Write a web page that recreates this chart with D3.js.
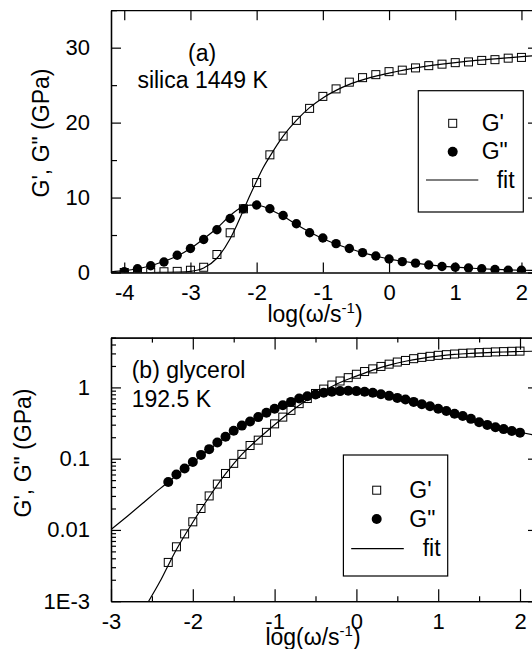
<!DOCTYPE html>
<html>
<head>
<meta charset="utf-8">
<script src="https://cdn.jsdelivr.net/npm/d3@7"></script>
<style>
  html, body { margin: 0; padding: 0; background: #fff; overflow: hidden; }
  svg { display: block; font-family: "Liberation Sans", Arial, sans-serif; }
</style>
</head>
<body>
<svg id="chart" width="532" height="649"></svg>
<script>
// (a) silica 1449 K, linear G scale
var silicaLogW = [-4.0, -3.8, -3.6, -3.4, -3.2, -3.0, -2.8, -2.6, -2.4, -2.2, -2.0, -1.8, -1.6, -1.4, -1.2, -1.0,
  -0.8, -0.6, -0.4, -0.2, 0.0, 0.2, 0.4, 0.6, 0.8, 1.0, 1.2, 1.4, 1.6, 1.8, 2.0];
var silicaGp = [0, 0, 0.02, 0.1, 0.15, 0.3, 0.7, 2.4, 5.3, 8.5, 12.0, 15.7, 18.2, 20.3, 21.9, 23.5,
  24.5, 25.4, 26.0, 26.4, 26.8, 27.0, 27.3, 27.6, 27.8, 28.0, 28.1, 28.3, 28.4, 28.6, 28.7];
var silicaGpp = [0.1, 0.5, 0.9, 1.4, 2.3, 3.2, 4.4, 5.7, 7.2, 8.5, 9.0, 8.5, 7.6, 6.5, 5.3, 4.6,
  3.85, 3.2, 2.65, 2.2, 1.8, 1.45, 1.25, 1.0, 0.8, 0.7, 0.6, 0.5, 0.4, 0.3, 0.3];
var silicaFitLogW = [-4.2, -4.0, -3.8, -3.6, -3.4, -3.2, -3.0, -2.8, -2.6, -2.4, -2.3, -2.2, -2.1, -2.0, -1.9, -1.8,
  -1.6, -1.4, -1.2, -1.0, -0.8, -0.6, -0.4, -0.2, 0.0, 0.4, 0.8, 1.2, 1.6, 2.0, 2.3];
var silicaFitGp = [0, 0, 0, 0, 0.02, 0.05, 0.15, 0.6, 1.9, 4.5, 6.3, 8.3, 10.3, 12.2, 14.0, 15.5,
  18.2, 20.3, 22.0, 23.3, 24.3, 25.1, 25.7, 26.2, 26.6, 27.3, 27.8, 28.2, 28.5, 28.8, 29.0];
var silicaFitGpp = [0.1, 0.25, 0.5, 0.9, 1.5, 2.2, 3.2, 4.5, 5.9, 7.6, 8.3, 8.8, 9.0, 9.0, 8.8, 8.4,
  7.5, 6.4, 5.4, 4.5, 3.8, 3.2, 2.65, 2.2, 1.8, 1.25, 0.85, 0.6, 0.42, 0.3, 0.25];
var silicaXTicks = [-4, -3, -2, -1, 0, 1, 2];
var silicaYTicks = [0, 10, 20, 30];
var silicaYMinor = [5, 15, 25, 35];

// (b) glycerol 192.5 K, log G scale
var glycerolLogW = [-2.3, -2.2, -2.1, -2.0, -1.9, -1.8, -1.7, -1.6, -1.5, -1.4, -1.3, -1.2, -1.1, -1.0, -0.9,
  -0.8, -0.7, -0.6, -0.5, -0.4, -0.3, -0.2, -0.1, 0.0, 0.1, 0.2, 0.3, 0.4, 0.5, 0.6, 0.7, 0.8, 0.9,
  1.0, 1.1, 1.2, 1.3, 1.4, 1.5, 1.6, 1.7, 1.8, 1.9, 2.0];
var glycerolGp = [0.0035, 0.0058, 0.0088, 0.013, 0.020, 0.030, 0.044, 0.062, 0.086, 0.115, 0.153, 0.182,
  0.234, 0.308, 0.383, 0.476, 0.592, 0.698, 0.822, 0.947, 1.08, 1.23, 1.37, 1.53, 1.67, 1.82, 1.97,
  2.12, 2.27, 2.39, 2.53, 2.64, 2.73, 2.82, 2.88, 2.94, 3.01, 3.04, 3.08, 3.11, 3.15, 3.18, 3.21, 3.23];
var glycerolGpp = [0.047, 0.060, 0.073, 0.090, 0.113, 0.136, 0.169, 0.203, 0.247, 0.291, 0.332, 0.383,
  0.441, 0.503, 0.561, 0.626, 0.698, 0.753, 0.795, 0.84, 0.868, 0.887, 0.897, 0.887, 0.868, 0.84,
  0.804, 0.761, 0.713, 0.675, 0.626, 0.579, 0.543, 0.503, 0.466, 0.427, 0.396, 0.362, 0.325, 0.298,
  0.276, 0.26, 0.245, 0.232];
var glycerolFitGpLogW = [-2.54, -2.4, -2.3, -2.2, -2.0, -1.8, -1.6, -1.4, -1.2, -1.0, -0.8, -0.6, -0.4,
  -0.2, 0.0, 0.2, 0.4, 0.6, 0.8, 1.0, 1.2, 1.4, 1.6, 1.8, 2.0, 2.3];
var glycerolFitGp = [0.001, 0.0019, 0.0032, 0.0053, 0.0128, 0.029, 0.061, 0.115, 0.19, 0.30, 0.46, 0.67, 0.90,
  1.17, 1.44, 1.75, 2.05, 2.33, 2.56, 2.75, 2.9, 3.0, 3.08, 3.14, 3.19, 3.24];
var glycerolFitGppLogW = [-3.0, -2.8, -2.6, -2.4, -2.3, -2.2, -2.0, -1.8, -1.6, -1.4, -1.2, -1.0, -0.8,
  -0.6, -0.4, -0.2, 0.0, 0.2, 0.4, 0.6, 0.8, 1.0, 1.2, 1.4, 1.6, 1.8, 2.0, 2.3];
var glycerolFitGpp = [0.0101, 0.0156, 0.0243, 0.038, 0.047, 0.058, 0.088, 0.134, 0.20, 0.29, 0.39, 0.50, 0.62,
  0.745, 0.835, 0.88, 0.88, 0.84, 0.76, 0.67, 0.58, 0.50, 0.43, 0.36, 0.30, 0.26, 0.235, 0.20];
var glycerolXTicks = [-3, -2, -1, 0, 1, 2];
var glycerolXMinor = [-2.5, -1.5, -0.5, 0.5, 1.5];
var glycerolYTicks = [0.001, 0.01, 0.1, 1];
var glycerolYTickLabels = ['1E-3', '0.01', '0.1', '1'];

var legendLabels = ["G'", 'G"', 'fit'];

(function () {

  var svg = d3.select('#chart');
  svg.append('rect').attr('width', 532).attr('height', 649).attr('fill', '#fff');

  var tickFont = 22;
  var frameWidth = 1.3;

  var zip = function (xs, ys) {
    return xs.map(function (x, i) { return { x: x, y: ys[i] }; });
  };

  var drawPanel = function (cfg) {
    var x = d3.scaleLinear().domain(cfg.xDomain).range([111, 538]);
    var y = cfg.yScale;
    var g = svg.append('g');
    var top = y.range()[1], bottom = y.range()[0];

    var clipId = 'clip-' + cfg.id;
    g.append('clipPath').attr('id', clipId)
      .append('rect')
      .attr('x', 111).attr('y', top)
      .attr('width', 427).attr('height', bottom - top);

    var fmtX = function (d) { return String(d); };

    // frame + ticks (inward on all four sides)
    var axes = [
      { a: d3.axisBottom(x).tickValues(cfg.xTicks).tickSize(-cfg.xMajor).tickPadding(12).tickFormat(fmtX), t: 'translate(0,' + bottom + ')' },
      { a: d3.axisTop(x).tickValues(cfg.xTicks).tickSize(-cfg.xMajor).tickFormat(''), t: 'translate(0,' + top + ')' },
      { a: d3.axisLeft(y).tickValues(cfg.yTicks).tickSize(-10).tickPadding(cfg.yPad).tickFormat(cfg.yFormat), t: 'translate(111,0)' },
      { a: d3.axisRight(y).tickValues(cfg.yTicks).tickSize(-10).tickFormat(''), t: 'translate(538,0)' }
    ];
    if (cfg.xMinor) {
      axes.push({ a: d3.axisBottom(x).tickValues(cfg.xMinor).tickSize(-5).tickFormat(''), t: 'translate(0,' + bottom + ')' });
      axes.push({ a: d3.axisTop(x).tickValues(cfg.xMinor).tickSize(-5).tickFormat(''), t: 'translate(0,' + top + ')' });
    }
    axes.push({ a: d3.axisLeft(y).tickValues(cfg.yMinor).tickSize(-cfg.yMinorLen).tickFormat(''), t: 'translate(111,0)' });
    axes.push({ a: d3.axisRight(y).tickValues(cfg.yMinor).tickSize(-cfg.yMinorLen).tickFormat(''), t: 'translate(538,0)' });

    axes.forEach(function (ax) {
      var ag = g.append('g')
        .attr('transform', ax.t)
        .call(ax.a.tickSizeOuter(0));
      ag.select('.domain').attr('stroke', '#000').attr('stroke-width', frameWidth);
      ag.selectAll('.tick line').attr('stroke', '#000').attr('stroke-width', 1.2);
      ag.selectAll('.tick text')
        .attr('fill', '#000')
        .style('font-size', tickFont + 'px')
        .style('font-family', '"Liberation Sans", Arial, sans-serif');
    });

    var line = d3.line()
      .x(function (d) { return x(d.x); })
      .y(function (d) { return y(d.y); })
      .curve(d3.curveMonotoneX);

    var plot = g.append('g').attr('clip-path', 'url(#' + clipId + ')');

    plot.append('path')
      .datum(zip(cfg.fitGpX, cfg.fitGp))
      .attr('d', line)
      .attr('fill', 'none').attr('stroke', '#000').attr('stroke-width', 1.2);
    plot.append('path')
      .datum(zip(cfg.fitGppX, cfg.fitGpp))
      .attr('d', line)
      .attr('fill', 'none').attr('stroke', '#000').attr('stroke-width', 1.2);

    plot.selectAll('.gpp')
      .data(zip(cfg.logW, cfg.gpp))
      .enter()
      .append('circle')
      .attr('class', 'gpp')
      .attr('cx', function (d) { return x(d.x); })
      .attr('cy', function (d) { return y(d.y); })
      .attr('r', cfg.dotR)
      .attr('fill', '#000');

    plot.selectAll('.gp')
      .data(zip(cfg.logW, cfg.gp))
      .enter()
      .append('rect')
      .attr('class', 'gp')
      .attr('x', function (d) { return x(d.x) - 4; })
      .attr('y', function (d) { return y(d.y) - 4; })
      .attr('width', 8).attr('height', 8)
      .attr('fill', 'none').attr('stroke', '#000').attr('stroke-width', 1);

    // axis titles
    var xt = svg.append('text')
      .attr('x', cfg.xTitle[0]).attr('y', cfg.xTitle[1])
      .attr('text-anchor', 'middle')
      .style('font-size', '23px');
    xt.append('tspan').text('log(\u03c9/s');
    xt.append('tspan').text('-1').style('font-size', '15px').attr('dy', -9);
    xt.append('tspan').text(')').attr('dy', 9);

    svg.append('text')
      .attr('transform', 'translate(' + cfg.yTitle[0] + ',' + cfg.yTitle[1] + ') rotate(-90)')
      .attr('text-anchor', 'middle')
      .attr('dy', '0.35em')
      .style('font-size', '23px')
      .text('G\', G" (GPa)');

    cfg.notes.forEach(function (n) {
      svg.append('text')
        .attr('x', n[0]).attr('y', n[1])
        .style('font-size', '23px')
        .text(n[2]);
    });

    // legend
    var L = cfg.legend;
    var lg = svg.append('g');
    lg.append('rect')
      .attr('x', L.x).attr('y', L.y).attr('width', L.w).attr('height', L.h)
      .attr('fill', '#fff').attr('stroke', '#000').attr('stroke-width', 1.2);
    lg.append('rect')
      .attr('x', L.sx - 4).attr('y', L.rows[0] - 4).attr('width', 8).attr('height', 8)
      .attr('fill', 'none').attr('stroke', '#000').attr('stroke-width', 1);
    lg.append('circle')
      .attr('cx', L.sx).attr('cy', L.rows[1]).attr('r', 5)
      .attr('fill', '#000');
    lg.append('line')
      .attr('x1', L.lx[0]).attr('x2', L.lx[1])
      .attr('y1', L.rows[2]).attr('y2', L.rows[2])
      .attr('stroke', '#000').attr('stroke-width', 1.2);
    legendLabels.forEach(function (t, i) {
      lg.append('text')
        .attr('x', L.tx[i]).attr('y', L.rows[i] + 7.5)
        .style('font-size', '23px')
        .text(t);
    });
  };

  drawPanel({
    id: 'a',
    xDomain: [-4.2, 2.25],
    yScale: d3.scaleLinear().domain([0, 35]).range([272.5, 10.2]),
    xTicks: silicaXTicks, xMajor: 10,
    yTicks: silicaYTicks, yMinor: silicaYMinor, yMinorLen: 6,
    yPad: 21, yFormat: function (d) { return String(d); },
    logW: silicaLogW, gp: silicaGp, gpp: silicaGpp, dotR: 4.7,
    fitGpX: silicaFitLogW, fitGp: silicaFitGp,
    fitGppX: silicaFitLogW, fitGpp: silicaFitGpp,
    xTitle: [315, 321.5], yTitle: [40.7, 133],
    notes: [[188, 61, '(a)'], [137.4, 88, 'silica 1449 K']],
    legend: { x: 418.3, y: 90.7, w: 105, h: 121.3, sx: 452.7, rows: [123.3, 151.7, 180],
      lx: [426, 478.3], tx: [481.7, 481.7, 496.7] }
  });

  var yLog = d3.scaleLog().domain([0.001, 5]).range([601.2, 337.6]);
  drawPanel({
    id: 'b',
    xDomain: [-3, 2.22],
    yScale: yLog,
    xTicks: glycerolXTicks, xMajor: 12, xMinor: glycerolXMinor,
    yTicks: glycerolYTicks,
    yMinor: yLog.ticks().filter(function (v) { return glycerolYTicks.indexOf(v) < 0; }),
    yMinorLen: 5,
    yPad: 21, yFormat: function (d) { return glycerolYTickLabels[glycerolYTicks.indexOf(d)]; },
    logW: glycerolLogW, gp: glycerolGp, gpp: glycerolGpp, dotR: 5,
    fitGpX: glycerolFitGpLogW, fitGp: glycerolFitGp,
    fitGppX: glycerolFitGppLogW, fitGpp: glycerolFitGpp,
    xTitle: [313, 644.6], yTitle: [23, 453],
    notes: [[131.7, 377.7, '(b) glycerol'], [131.7, 406.7, '192.5 K']],
    legend: { x: 343.4, y: 455, w: 104.3, h: 121, sx: 376.7, rows: [490.2, 519, 548.6],
      lx: [351.2, 403.8], tx: [409.3, 409.3, 422.7] }
  });

})();
</script>
</body>
</html>
